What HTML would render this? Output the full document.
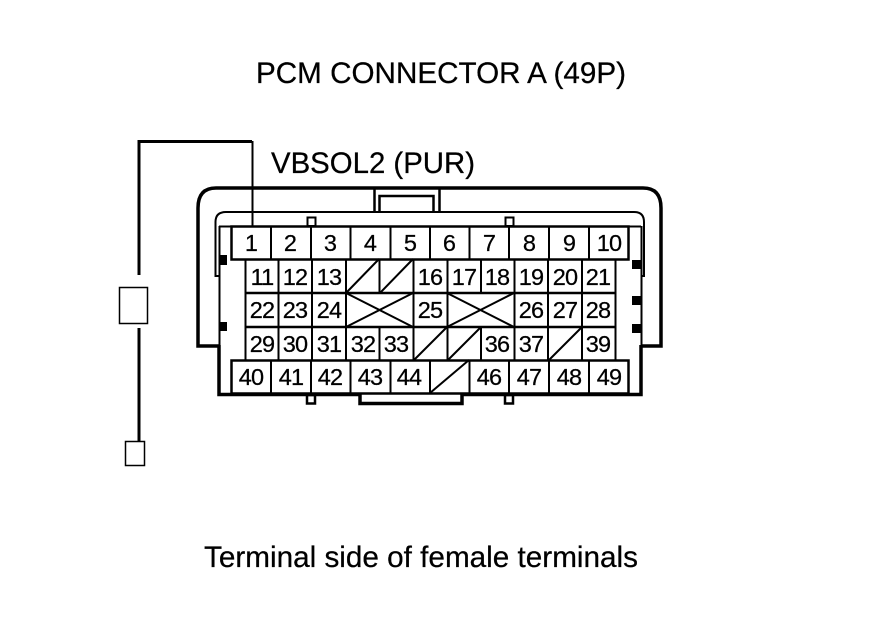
<!DOCTYPE html>
<html>
<head>
<meta charset="utf-8">
<style>
html,body{margin:0;padding:0;background:#fff;width:880px;height:630px;overflow:hidden}
svg{display:block}
text{font-family:"Liberation Sans",Arial,sans-serif;fill:#000;stroke:#000;stroke-width:.25px}
.n{font-size:23.5px;text-anchor:middle;letter-spacing:-.8px}
.t{font-size:29.5px}
</style>
</head>
<body>
<svg width="880" height="630" viewBox="0 0 880 630" xmlns="http://www.w3.org/2000/svg">
<rect width="880" height="630" fill="#fff"/>
<text class="t" x="256" y="83" textLength="370" lengthAdjust="spacingAndGlyphs">PCM CONNECTOR A (49P)</text>
<text class="t" x="271" y="173" textLength="204" lengthAdjust="spacingAndGlyphs">VBSOL2 (PUR)</text>
<text class="t" x="204" y="567" textLength="434" lengthAdjust="spacingAndGlyphs">Terminal side of female terminals</text>

<g fill="none" stroke="#000">
<!-- wire -->
<path d="M139 275V141.500H252" stroke-width="3"/>
<path d="M252.500 141V226" stroke-width="2"/>
<path d="M139 328V441" stroke-width="3"/>
<rect x="119.500" y="287.500" width="28" height="36" stroke-width="1.500"/>
<rect x="125.500" y="441.500" width="19" height="24" stroke-width="1.500"/>

<!-- outer shell -->
<path d="M219 346H198V208Q198 188 216 188H643Q661 188 661 208V346H641" stroke-width="3.500"/>
<path d="M219 345V394.500H360V403.500H462V394.500H641V345" stroke-width="3.500"/>
<!-- inner shroud -->
<path d="M219 276H215.500V222Q215.500 212 226 212H634Q644 212 644 222V276H641" stroke-width="2"/>
<path d="M219.500 226V346M641.500 226V346M219 226.500H641" stroke-width="2"/>
<!-- top latch -->
<path d="M374.500 211V188M379.500 211V196H433.500V211M439.500 211V188" stroke-width="2.500"/>
<!-- small tabs -->
<rect x="307.500" y="217.500" width="8" height="8.500" stroke-width="2"/>
<rect x="505.500" y="217.500" width="8" height="8.500" stroke-width="2"/>
<rect x="307" y="395" width="8" height="8.500" stroke-width="2.500"/>
<rect x="505" y="395" width="8" height="8.500" stroke-width="2.500"/>

<!-- top row -->
<rect x="231.500" y="226.500" width="397" height="33" stroke-width="2.500"/>
<path d="M271 226V259M311 226V259M350.500 226V259M390.500 226V259M430 226V259M469.500 226V259M509 226V259M549 226V259M589 226V259" stroke-width="2"/>
<!-- grid -->
<path d="M245.500 259V360M615.500 259V360" stroke-width="2"/>
<path d="M245 293H615M245 327H615" stroke-width="2.500"/>
<path d="M278.500 259V360M312 259V360M346 259V360M379.500 259V293M379.500 327V360M413.500 259V360M447.500 259V360M481 259V293M481 327V360M514.500 259V360M548 259V360M582 259V360" stroke-width="2"/>
<!-- bottom row -->
<rect x="231.500" y="360.500" width="397" height="33" stroke-width="2.500"/>
<path d="M271 360V393M311 360V393M350.500 360V393M390.500 360V393M430 360V393M469.500 360V393M509 360V393M549 360V393M589 360V393" stroke-width="2"/>
</g>

<!-- diagonals -->
<g fill="none" stroke="#000" stroke-width="2">
<path d="M346 293L379 259M380 293L413 259"/>
<path d="M346 293L413 327M346 327L413 293"/>
<path d="M447 293L514 327M447 327L514 293"/>
<path d="M414 360L447 327M448 360L481 327M549 360L582 327"/>
<path d="M430 393L469 360"/>
</g>

<!-- black blocks -->
<g fill="#000">
<rect x="219" y="255" width="8" height="10"/>
<rect x="219" y="322" width="8" height="9"/>
<rect x="632" y="260" width="9" height="9"/>
<rect x="632" y="296" width="9" height="9"/>
<rect x="632" y="324" width="9" height="9"/>
</g>

<!-- row 1 -->
<g>
<text class="n" x="251" y="251">1</text>
<text class="n" x="290" y="251">2</text>
<text class="n" x="330" y="251">3</text>
<text class="n" x="370" y="251">4</text>
<text class="n" x="410" y="251">5</text>
<text class="n" x="449" y="251">6</text>
<text class="n" x="489" y="251">7</text>
<text class="n" x="529" y="251">8</text>
<text class="n" x="569" y="251">9</text>
<text class="n" x="609" y="251">10</text>
</g>
<!-- row 2 -->
<g>
<text class="n" x="262" y="285">11</text>
<text class="n" x="295" y="285">12</text>
<text class="n" x="329" y="285">13</text>
<text class="n" x="430" y="285">16</text>
<text class="n" x="464" y="285">17</text>
<text class="n" x="497" y="285">18</text>
<text class="n" x="531" y="285">19</text>
<text class="n" x="565" y="285">20</text>
<text class="n" x="598" y="285">21</text>
</g>
<!-- row 3 -->
<g>
<text class="n" x="262" y="318">22</text>
<text class="n" x="295" y="318">23</text>
<text class="n" x="329" y="318">24</text>
<text class="n" x="430" y="318">25</text>
<text class="n" x="531" y="318">26</text>
<text class="n" x="565" y="318">27</text>
<text class="n" x="598" y="318">28</text>
</g>
<!-- row 4 -->
<g>
<text class="n" x="262" y="352">29</text>
<text class="n" x="295" y="352">30</text>
<text class="n" x="329" y="352">31</text>
<text class="n" x="363" y="352">32</text>
<text class="n" x="396" y="352">33</text>
<text class="n" x="497" y="352">36</text>
<text class="n" x="531" y="352">37</text>
<text class="n" x="598" y="352">39</text>
</g>
<!-- row 5 -->
<g>
<text class="n" x="251" y="385">40</text>
<text class="n" x="291" y="385">41</text>
<text class="n" x="330" y="385">42</text>
<text class="n" x="370" y="385">43</text>
<text class="n" x="409" y="385">44</text>
<text class="n" x="489" y="385">46</text>
<text class="n" x="529" y="385">47</text>
<text class="n" x="569" y="385">48</text>
<text class="n" x="609" y="385">49</text>
</g>
</svg>
</body>
</html>
